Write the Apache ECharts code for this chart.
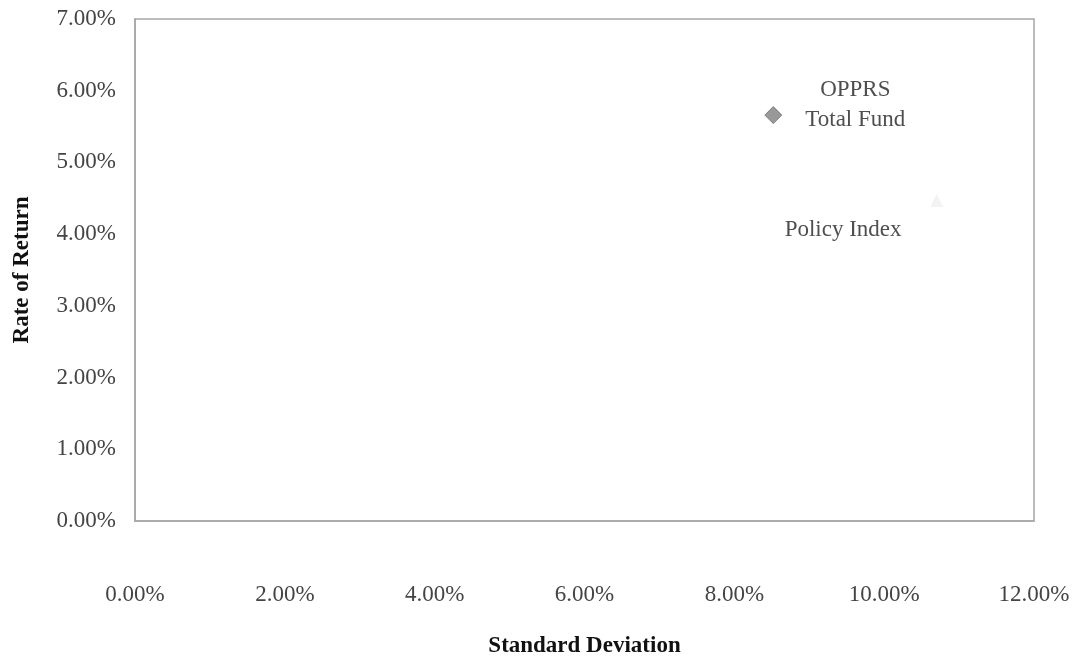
<!DOCTYPE html>
<html>
<head>
<meta charset="utf-8">
<script src="https://cdn.jsdelivr.net/npm/echarts@6/dist/echarts.min.js"></script>
<style>
  html, body { margin: 0; padding: 0; background: #fff; }
  #chart { width: 1078px; height: 656px; }
</style>
</head>
<body>
<div id="chart"></div>
<script>
// Risk / return points (standard deviation %, rate of return %)
const fundNames = ['OPPRS\nTotal Fund', 'Policy Index'];
const stdDev = [8.52, 10.70];
const returns = [5.66, 4.47];

const xTicks = { min: 0, max: 12, interval: 2 };
const yTicks = { min: 0, max: 7, interval: 1 };

const serif = '"Liberation Serif", "DejaVu Serif", serif';
const pct = v => v.toFixed(2) + '%';

const chart = echarts.init(document.getElementById('chart'));
chart.setOption({
  animation: false,
  backgroundColor: '#fff',
  grid: {
    left: 135, right: 44, top: 19, bottom: 135,
    outerBoundsMode: 'none',
    containLabel: false,
    show: true, borderColor: '#a6a6a6', borderWidth: 1.5
  },
  xAxis: {
    type: 'value',
    min: xTicks.min, max: xTicks.max, interval: xTicks.interval,
    name: 'Standard Deviation',
    nameLocation: 'middle',
    nameGap: 114,
    nameTextStyle: { fontFamily: serif, fontSize: 23, fontWeight: 'bold', color: '#111' },
    axisLine: { show: true, lineStyle: { color: '#a6a6a6', width: 1.5 } },
    axisTick: { show: false },
    splitLine: { show: false },
    axisLabel: { formatter: pct, margin: 62, fontFamily: serif, fontSize: 23, color: '#444' }
  },
  yAxis: {
    type: 'value',
    min: yTicks.min, max: yTicks.max, interval: yTicks.interval,
    name: 'Rate of Return',
    nameLocation: 'middle',
    nameGap: 101,
    nameTextStyle: { fontFamily: serif, fontSize: 23, fontWeight: 'bold', color: '#111' },
    axisLine: { show: true, lineStyle: { color: '#a6a6a6', width: 1.5 } },
    axisTick: { show: false },
    splitLine: { show: false },
    axisLabel: { formatter: pct, margin: 19, fontFamily: serif, fontSize: 23, color: '#444' }
  },
  series: [
    {
      type: 'scatter',
      symbol: 'diamond',
      symbolSize: 17,
      itemStyle: { color: '#808080', borderColor: '#6e6e6e', borderWidth: 1 },
      data: [[stdDev[0], returns[0]]],
      label: {
        show: true,
        formatter: fundNames[0],
        position: [91, -1],
        align: 'center',
        verticalAlign: 'middle',
        lineHeight: 30,
        fontFamily: serif, fontSize: 23, color: '#222'
      }
    },
    {
      type: 'scatter',
      symbol: 'triangle',
      symbolSize: 13,
      itemStyle: { color: '#f0f0f0' },
      data: [[stdDev[1], returns[1]]],
      label: {
        show: true,
        formatter: fundNames[1],
        position: [-87, 36],
        align: 'center',
        verticalAlign: 'middle',
        fontFamily: serif, fontSize: 23, color: '#222'
      }
    }
  ]
});
</script>
</body>
</html>
